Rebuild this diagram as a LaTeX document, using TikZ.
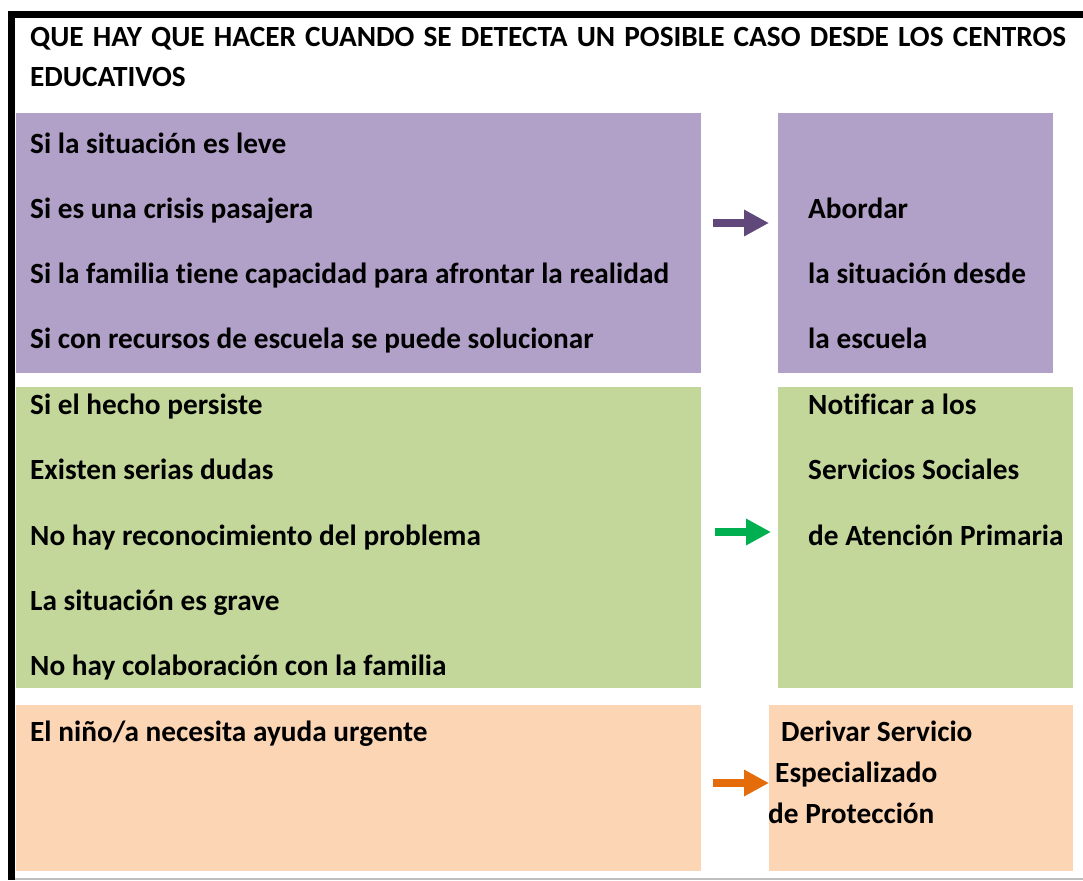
\documentclass[tikz,border=0pt]{standalone}
\usepackage{fontspec}
\setmainfont[Ligatures={NoCommon}]{Carlito}
\usetikzlibrary{arrows.meta}
\definecolor{leve}{HTML}{B1A0C7}
\definecolor{dudas}{HTML}{C4D79B}
\definecolor{urgente}{HTML}{FCD5B4}
\definecolor{levearrow}{HTML}{60497A}
\definecolor{dudasarrow}{HTML}{00B050}
\definecolor{urgentearrow}{HTML}{E46C0A}
\tikzset{
    caso/.style={
        box/.append style={rectangle,anchor=north west,inner sep=0pt,outer sep=0pt},
        txt/.append style={anchor=base west,inner sep=0pt,font=\fontsize{29.3}{34}\selectfont\bfseries},
        flecha/.append style={line width=8pt,-{Triangle[length=25pt,width=25pt]}}
    }
}

\begin{document}
\begin{tikzpicture}[caso,x=1pt,y=-1pt]
    \useasboundingbox (0,0) rectangle (1083,880);
    % marco
    \fill (8,11) rectangle (1083,18);
    \fill (8,11) rectangle (15,880);
    \fill[black!25] (15,878) rectangle (1083,880);
    \node[txt] (t1) at (30,47) {\makebox[1036pt][s]{QUE HAY QUE HACER CUANDO SE DETECTA UN POSIBLE CASO DESDE LOS CENTROS}};
    \node[txt] (t2) at (30,87) {EDUCATIVOS};

    \node[box,fill=leve,minimum width=685pt,minimum height=260pt] (li) at (16,113) {};
    \node[box,fill=leve,minimum width=275pt,minimum height=260pt] (ld) at (778,113) {};
    \node[txt] (l1) at (30,153) {Si la situación es leve};
    \node[txt] (l2) at (30,218) {Si es una crisis pasajera};
    \node[txt] (l3) at (30,283) {Si la familia tiene capacidad para afrontar la realidad};
    \node[txt] (l4) at (30,348) {Si con recursos de escuela se puede solucionar};
    \node[txt] (r1) at (808,218) {Abordar};
    \node[txt] (r2) at (808,283) {la situación desde};
    \node[txt] (r3) at (808,348) {la escuela};
    \coordinate (a1) at (713,223);
    \coordinate (b1) at (769,223);
    \draw[flecha,levearrow] (a1) -- (b1);

    \node[box,fill=dudas,minimum width=685pt,minimum height=301pt] (di) at (16,387) {};
    \node[box,fill=dudas,minimum width=295pt,minimum height=301pt] (dd) at (778,387) {};
    \node[txt] (d1) at (30,414) {Si el hecho persiste};
    \node[txt] (d2) at (30,479) {Existen serias dudas};
    \node[txt] (d3) at (30,545) {No hay reconocimiento del problema};
    \node[txt] (d4) at (30,610) {La situación es grave};
    \node[txt] (d5) at (30,675) {No hay colaboración con la familia};
    \node[txt] (s1) at (808,414) {Notificar a los};
    \node[txt] (s2) at (808,479) {Servicios Sociales};
    \node[txt] (s3) at (808,545) {de Atención Primaria};
    \coordinate (a2) at (715,532);
    \coordinate (b2) at (771,532);
    \draw[flecha,dudasarrow] (a2) -- (b2);

    \node[box,fill=urgente,minimum width=685pt,minimum height=166pt] (ui) at (16,705) {};
    \node[box,fill=urgente,minimum width=304pt,minimum height=166pt] (ud) at (769,705) {};
    \node[txt] (u1) at (30,741) {El niño/a necesita ayuda urgente};
    \node[txt] (p1) at (781,741) {Derivar Servicio};
    \node[txt] (p2) at (775,782) {Especializado};
    \node[txt] (p3) at (768,823) {de Protección};
    \coordinate (a3) at (713,783);
    \coordinate (b3) at (769,783);
    \draw[flecha,urgentearrow] (a3) -- (b3);
\end{tikzpicture}
\end{document}
